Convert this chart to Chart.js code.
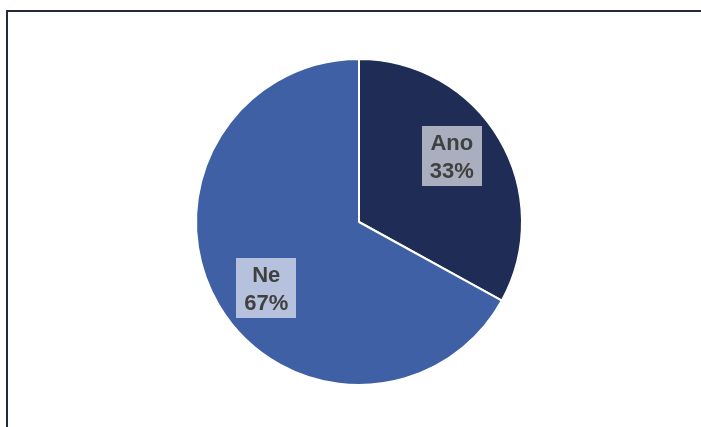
<!DOCTYPE html>
<html lang="cs">
<head>
<meta charset="UTF-8">
<title>Ano / Ne</title>
<script src="https://cdn.jsdelivr.net/npm/chart.js"></script>
<style>
    html, body { margin: 0; padding: 0; background: #fff; overflow: hidden; }
    .frame {
        position: absolute; left: 6px; top: 10px; width: 720px; height: 440px;
        border: 2px solid #222b3d; box-sizing: border-box;
    }
    canvas { position: absolute; left: 0; top: 0; }
</style>
</head>
<body>
<div class="frame"></div>
<canvas id="pieChart" width="701" height="427"></canvas>
<script>
    const labels = ['Ano', 'Ne'];
    const values = [33, 67];
    const colors = ['#1f2d56', '#4060a5'];

    // label boxes sitting inside each slice
    const sliceLabels = {
        id: 'sliceLabels',
        afterDatasetsDraw(chart) {
            const ctx = chart.ctx;
            const meta = chart.getDatasetMeta(0);
            const total = values.reduce((a, b) => a + b, 0);
            ctx.save();
            ctx.font = 'bold 22px "Liberation Sans", Arial, sans-serif';
            ctx.textAlign = 'center';
            ctx.textBaseline = 'alphabetic';
            meta.data.forEach((arc, i) => {
                const p = arc.getProps(['x', 'y', 'startAngle', 'endAngle', 'outerRadius'], true);
                const mid = (p.startAngle + p.endAngle) / 2 - 5 * Math.PI / 180;
                const r = p.outerRadius * 0.7;
                const cx = p.x + Math.cos(mid) * r;
                const cy = p.y + Math.sin(mid) * r;
                const pct = Math.round(values[i] / total * 100) + '%';
                const w = 60, h = 60;
                ctx.fillStyle = 'rgba(255,255,255,0.62)';
                ctx.fillRect(Math.round(cx - w / 2), Math.round(cy - h / 2), w, h);
                ctx.fillStyle = '#404040';
                ctx.fillText(labels[i], cx, cy - 6);
                ctx.fillText(pct, cx, cy + 22);
            });
            ctx.restore();
        }
    };

    new Chart(document.getElementById('pieChart'), {
        type: 'pie',
        data: {
            labels: labels,
            datasets: [{
                data: values,
                backgroundColor: colors,
                borderColor: '#ffffff',
                borderWidth: 2
            }]
        },
        options: {
            responsive: false,
            animation: false,
            layout: { padding: { left: 195, right: 178, top: 58, bottom: 41 } },
            plugins: {
                legend: { display: false },
                tooltip: { enabled: false }
            }
        },
        plugins: [sliceLabels]
    });
</script>
</body>
</html>
